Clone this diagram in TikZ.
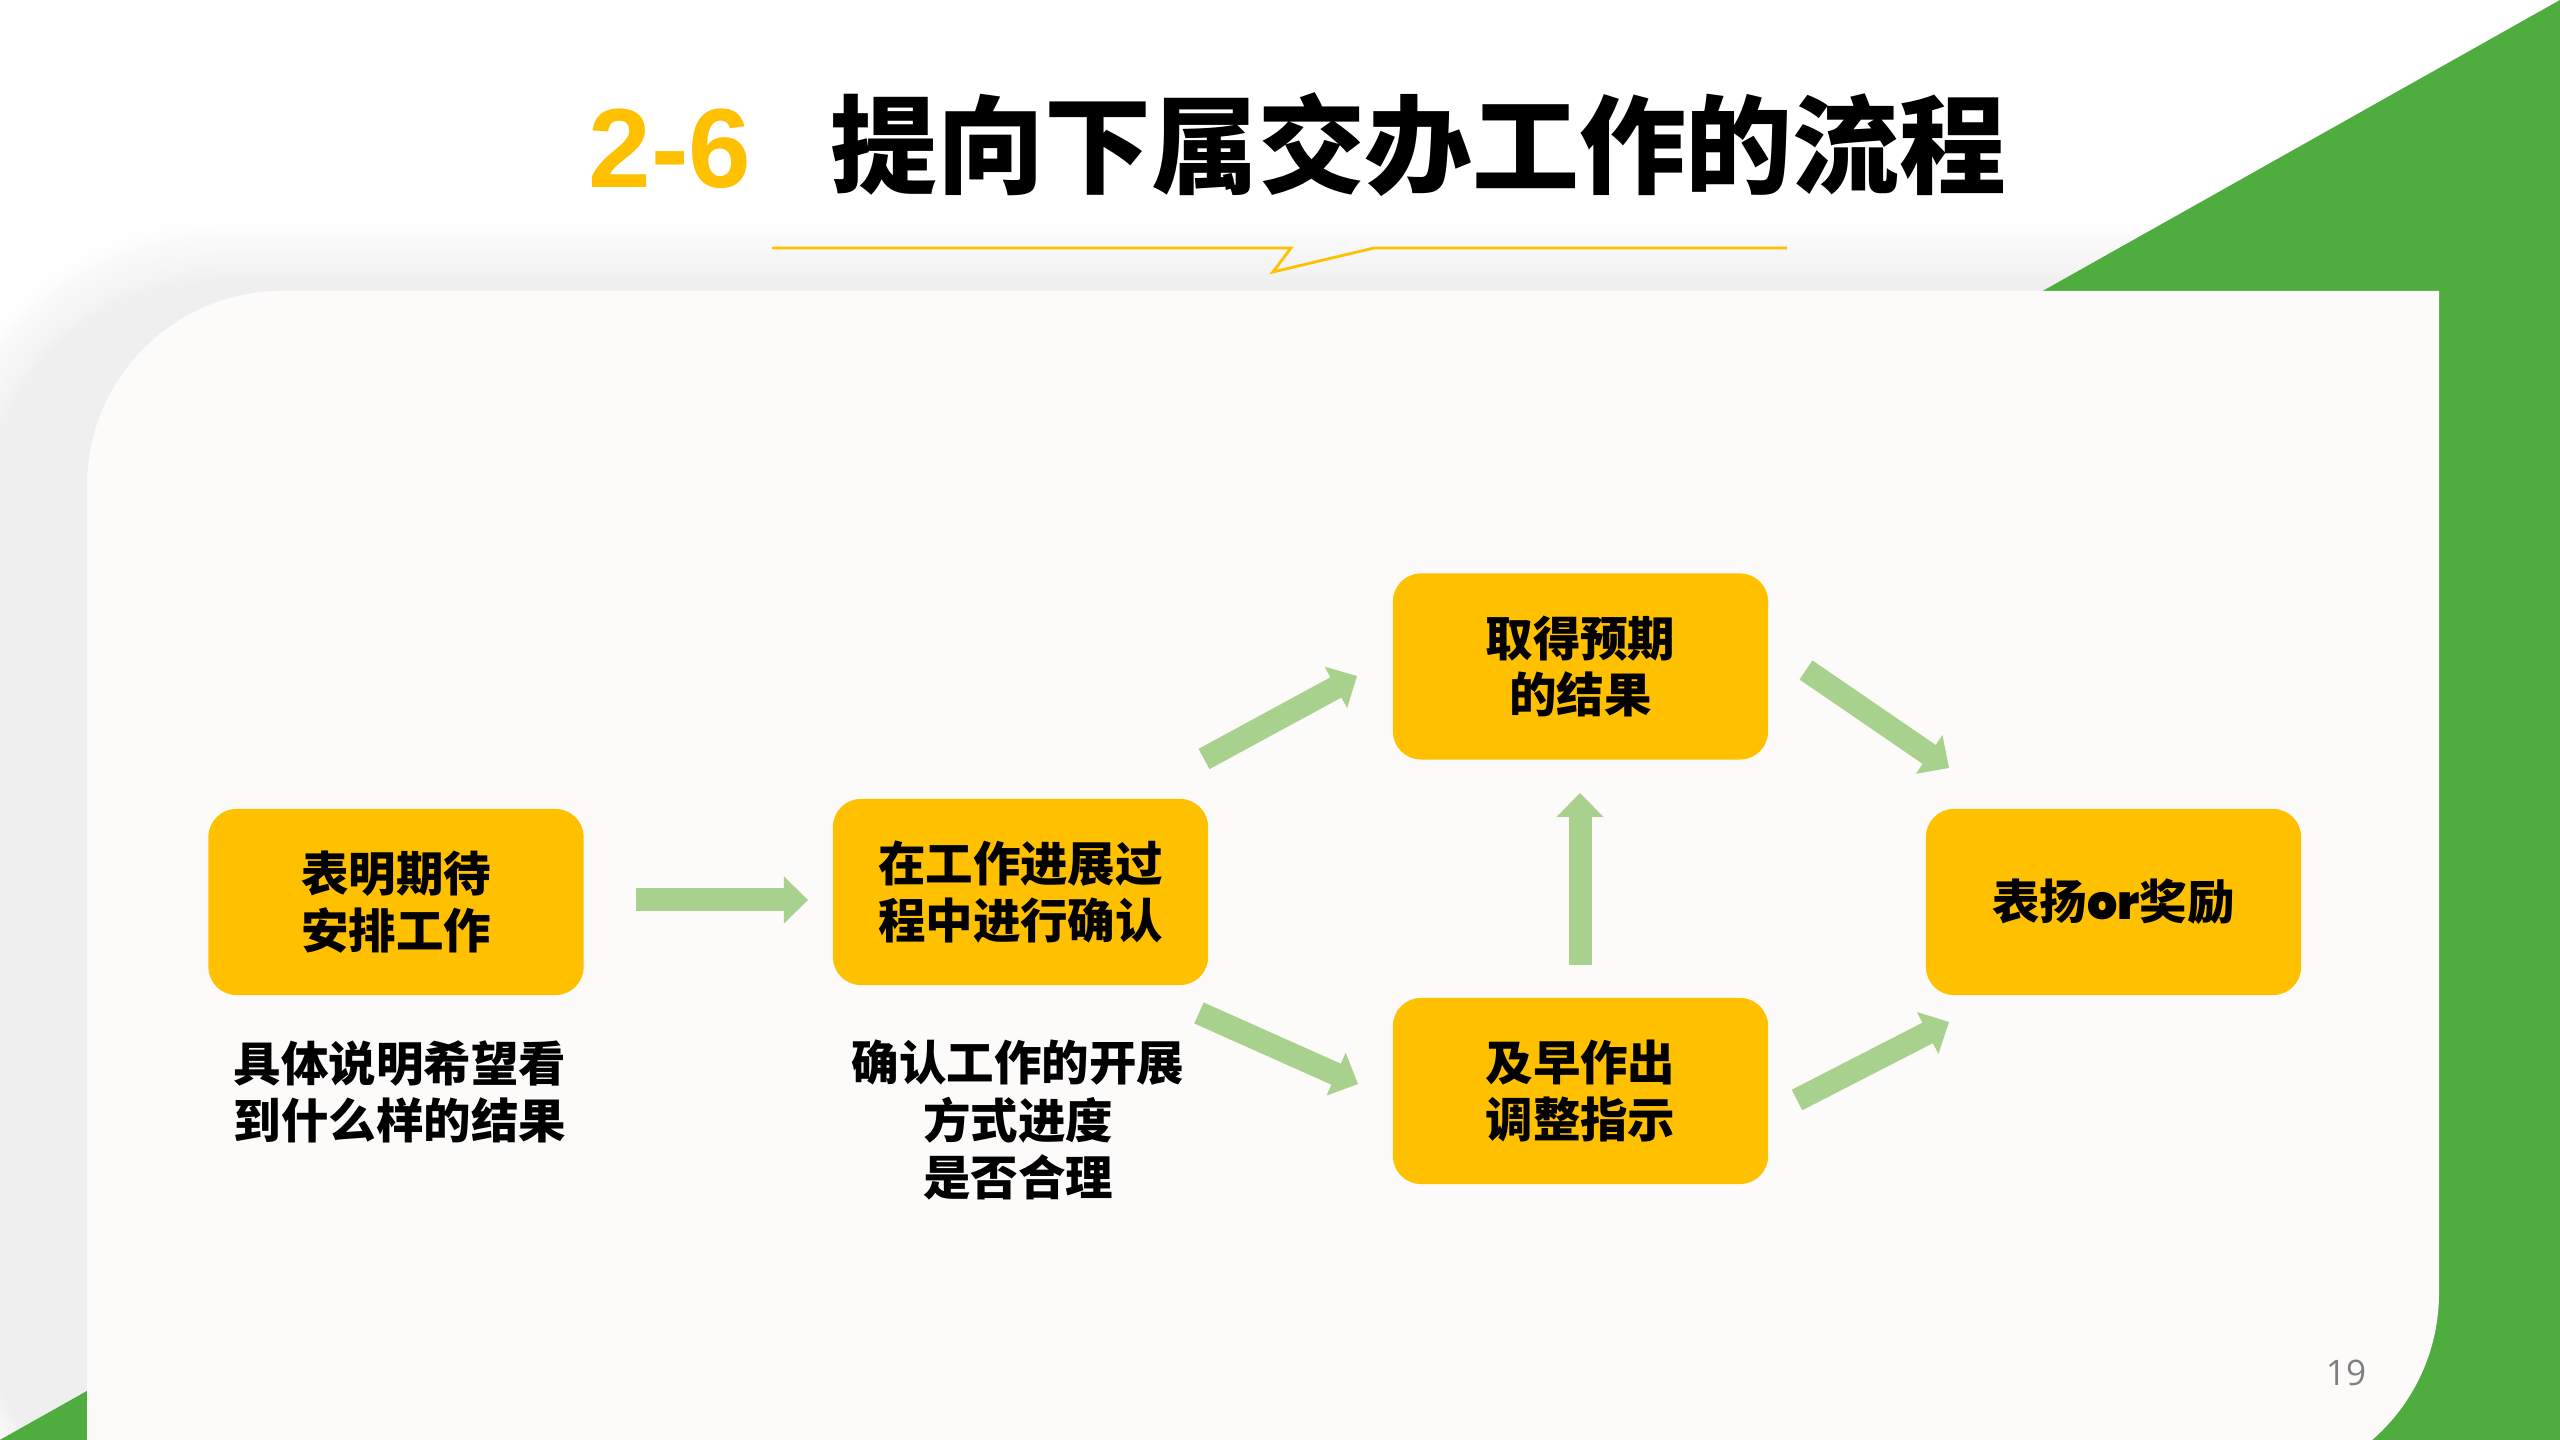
\documentclass[tikz,border=0pt]{standalone}
\usepackage{fontspec}
\newfontfamily\cjk{Noto Sans CJK SC}
\newfontfamily\latinf{Liberation Sans}
\newfontfamily\popf{Poppins ExtraBold}
\newfontfamily\osans{Open Sans}
\usetikzlibrary{calc}
\definecolor{boxyellow}{HTML}{FFC000}
\definecolor{arrowgreen}{HTML}{A9D18E}
\definecolor{bggreen}{HTML}{4FAC3F}
\definecolor{graybg}{HTML}{EFEFEF}
\definecolor{cardc}{HTML}{FDFAFA}
\definecolor{pagegray}{HTML}{808080}
\tikzset{
  stepbox/.style={fill=boxyellow, rounded corners=2.8mm, minimum width=3.75cm, minimum height=1.86cm,
    inner sep=0pt, align=center, text=black, font=\cjk\bfseries\fontsize{13.5pt}{16.2pt}\selectfont},
  note/.style={align=center, inner sep=0pt, text=black, font=\cjk\bfseries\fontsize{13.5pt}{16.4pt}\selectfont},
  arrowbody/.style={draw=arrowgreen, line width=2.3mm},
  arrowhead/.style={fill=arrowgreen},
  titleline/.style={draw=boxyellow, line width=0.28mm, line join=miter},
}
\newcommand\blockarrow[2]{%
  \coordinate (hb) at ($(#2)!2.4mm!(#1)$);
  \coordinate (hbb) at ($(#2)!2.3mm!(#1)$);
  \draw[arrowbody] (#1) -- (hbb);
  \fill[arrowhead] ($(hb)!2.35mm!90:(#2)$) -- (#2) -- ($(hb)!2.35mm!-90:(#2)$) -- cycle;
}
\begin{document}
\begin{tikzpicture}[x=0.01cm,y=0.01cm]
\useasboundingbox (0,0) rectangle (2560,1440);
\clip (0,0) rectangle (2560,1440);
\fill[white] (0,0) rectangle (2560,1440);
% soft gray backdrop
\foreach \i in {14,13,...,0}{
  \pgfmathtruncatemacro\pct{100*(14-\i)/14}
  \pgfmathsetmacro\off{5*\i}
  \pgfmathsetmacro\rc{(230+5*\i)/100}
  \fill[graybg!\pct!white, rounded corners=\rc cm] (-10-\off,-100) rectangle (2700,1155+\off);
}
% green triangle
\fill[bggreen] (2560,1440) -- (2560,-10) -- (-2,-1) -- cycle;
% card
\fill[cardc] (87,-60) -- (87,954) arc[start angle=180,end angle=90,radius=195] -- (2439,1149)
  -- (2439,147) arc[start angle=0,end angle=-90,radius=195] -- cycle;
% title
\node[anchor=base west, inner sep=0pt, text=boxyellow, font=\latinf\bfseries\fontsize{32pt}{36pt}\selectfont] (num) at (588,1252) {2-6};
\node[anchor=base west, inner sep=0pt, text=black, font=\cjk\bfseries\fontsize{30.4pt}{34pt}\selectfont] (title) at (830,1254) {提向下属交办工作的流程};
\draw[titleline] (772,1192) -- (1291,1192) -- (1273,1168) -- (1374,1192) -- (1787,1192);
% boxes
\node[stepbox] (b1) at (396,538) {表明期待\\安排工作};
\node[stepbox] (b2) at (1020.5,548) {在工作进展过\\程中进行确认};
\node[stepbox] (b3) at (1580.5,773.5) {取得预期\\的结果};
\node[stepbox] (b4) at (1580.5,349) {及早作出\\调整指示};
\node[stepbox] (b5) at (2113.5,538) {表扬{\popf or}奖励};
% notes
\node[note] (s1) at (400,348) {具体说明希望看\\到什么样的结果};
\node[note] (s2) at (1018,320) {确认工作的开展\\方式进度\\是否合理};
% arrow end points
\coordinate (a1) at (636,540);  \coordinate (a2) at (808,540);
\coordinate (c1) at (1204,681); \coordinate (c2) at (1357,764);
\coordinate (d1) at (1199,427); \coordinate (d2) at (1358,356);
\coordinate (e1) at (1580,475); \coordinate (e2) at (1580,647);
\coordinate (f1) at (1806,770); \coordinate (f2) at (1949,672);
\coordinate (g1) at (1797,340); \coordinate (g2) at (1949,418);
\blockarrow{a1}{a2}
\blockarrow{c1}{c2}
\blockarrow{d1}{d2}
\blockarrow{e1}{e2}
\blockarrow{f1}{f2}
\blockarrow{g1}{g2}
% page number
\node[inner sep=0pt, text=pagegray, font=\osans\fontsize{10pt}{12pt}\selectfont] (pn) at (2346,67) {19};
\end{tikzpicture}
\end{document}
